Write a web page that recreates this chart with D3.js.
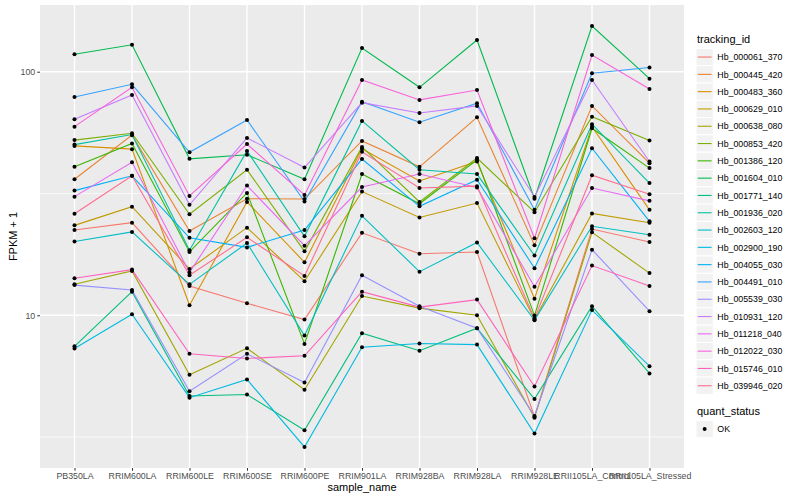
<!DOCTYPE html>
<html>
<head>
<meta charset="utf-8">
<script src="https://cdn.jsdelivr.net/npm/d3@7"></script>
<style>
  body { margin: 0; background: #fff; }
  text { font-family: "Liberation Sans", Arial, sans-serif; }
</style>
</head>
<body>
<script>
// samples on the x axis
var samples = ["PB350LA", "RRIM600LA", "RRIM600LE", "RRIM600SE", "RRIM600PE", "RRIM901LA",
  "RRIM928BA", "RRIM928LA", "RRIM928LE", "RRII105LA_Control", "RRII105LA_Stressed"];

var trackingIds = ["Hb_000061_370", "Hb_000445_420", "Hb_000483_360", "Hb_000629_010", "Hb_000638_080",
  "Hb_000853_420", "Hb_001386_120", "Hb_001604_010", "Hb_001771_140", "Hb_001936_020",
  "Hb_002603_120", "Hb_002900_190", "Hb_004055_030", "Hb_004491_010", "Hb_005539_030",
  "Hb_010931_120", "Hb_011218_040", "Hb_012022_030", "Hb_015746_010", "Hb_039946_020"];

// FPKM + 1, one array per tracking_id, in sample order
var hb_000061_370 = [22.4, 24.0, 13.2, 11.2, 9.60, 21.8, 17.9, 18.2, 3.83, 22.6, 20.0];
var hb_000445_420 = [36.2, 54.9, 22.2, 30.1, 30.0, 52.0, 40.7, 65.0, 19.4, 72.4, 42.1];
var hb_000483_360 = [49.6, 48.1, 11.0, 29.2, 16.5, 48.3, 35.6, 42.8, 11.7, 59.5, 27.1];
var hb_000629_010 = [23.4, 27.9, 15.5, 22.9, 13.8, 32.2, 25.2, 28.9, 9.60, 26.2, 24.0];
var hb_000638_080 = [13.4, 15.2, 5.70, 7.32, 4.95, 12.0, 10.7, 10.0, 3.80, 21.9, 14.9];
var hb_000853_420 = [52.4, 55.9, 26.0, 39.6, 18.3, 49.1, 29.2, 44.2, 26.5, 65.4, 52.2];
var hb_001386_120 = [40.7, 50.7, 18.2, 31.8, 7.63, 38.0, 28.7, 43.5, 9.97, 58.6, 40.2];
var hb_001604_010 = [118, 129, 43.9, 45.6, 36.2, 125, 86.3, 135, 30.1, 154, 93.6];
var hb_001771_140 = [7.46, 12.5, 4.66, 4.73, 3.37, 8.44, 7.15, 8.85, 4.53, 10.9, 5.77];
var hb_001936_020 = [50.2, 55.2, 18.5, 47.3, 21.1, 62.8, 39.6, 38.0, 17.6, 60.9, 34.9];
var hb_002603_120 = [20.1, 22.0, 13.4, 19.8, 8.26, 25.6, 15.1, 19.9, 9.54, 23.2, 21.4];
var hb_002900_190 = [7.30, 10.1, 4.59, 5.45, 2.88, 7.39, 7.66, 7.58, 3.27, 10.5, 6.18];
var hb_004055_030 = [32.5, 37.4, 20.8, 19.0, 22.4, 43.8, 28.0, 36.0, 15.6, 48.5, 24.3];
var hb_004491_010 = [78.8, 88.8, 46.7, 63.4, 29.3, 75.3, 62.0, 74.2, 27.1, 98.5, 104];
var hb_005539_030 = [13.3, 12.7, 4.88, 6.95, 5.30, 14.6, 10.9, 8.85, 3.86, 18.6, 10.4];
var hb_010931_120 = [63.8, 80.3, 28.4, 53.5, 40.4, 74.6, 67.7, 72.4, 30.6, 92.5, 42.8];
var hb_011218_040 = [30.7, 42.5, 15.0, 34.1, 19.3, 33.6, 38.0, 33.5, 13.1, 33.3, 29.5];
var hb_012022_030 = [59.5, 86.3, 30.9, 50.5, 31.2, 92.5, 76.6, 84.1, 20.7, 117, 84.9];
var hb_015746_010 = [14.2, 15.4, 6.95, 6.65, 6.82, 12.5, 10.8, 11.6, 5.10, 16.0, 13.2];
var hb_039946_020 = [26.1, 37.4, 14.6, 20.9, 14.5, 46.9, 33.3, 33.9, 9.69, 37.6, 31.4];

var seriesValues = [hb_000061_370, hb_000445_420, hb_000483_360, hb_000629_010, hb_000638_080,
  hb_000853_420, hb_001386_120, hb_001604_010, hb_001771_140, hb_001936_020,
  hb_002603_120, hb_002900_190, hb_004055_030, hb_004491_010, hb_005539_030,
  hb_010931_120, hb_011218_040, hb_012022_030, hb_015746_010, hb_039946_020];

var yTicks = [10, 100];
var quantStatus = ["OK"];

// ggplot hue palette for 20 levels
var colors = ["#F8766D", "#EA8331", "#D89000", "#C09B00", "#A3A500", "#7CAE00", "#39B600", "#00BB4E",
  "#00BF7D", "#00C1A3", "#00BFC4", "#00BAE0", "#00B0F6", "#35A2FF", "#9590FF", "#C77CFF",
  "#E76BF3", "#FA62DB", "#FF62BC", "#FF6C90"];

var series = trackingIds.map(function(id, i) {
  return { id: id, color: colors[i],
    values: samples.map(function(s, j) { return { sample: s, value: seriesValues[i][j] }; }) };
});

var W = 800, H = 500;
var margin = {top: 5, right: 116, bottom: 32, left: 40},
    width = W - margin.left - margin.right,
    height = H - margin.top - margin.bottom;

var svg = d3.select("body").append("svg")
    .attr("width", W)
    .attr("height", H);

var g = svg.append("g")
    .attr("transform", "translate(" + margin.left + "," + margin.top + ")");

var x = d3.scalePoint().domain(samples).range([0, width]).padding(0.6);

// log scale with 5% expansion in log space, like ggplot
var allVals = d3.merge(seriesValues);
var lo = Math.log10(d3.min(allVals)), hi = Math.log10(d3.max(allVals));
var pad = (hi - lo) * 0.05;
var y = d3.scaleLog().domain([Math.pow(10, lo - pad), Math.pow(10, hi + pad)]).range([height, 0]);

// panel
g.append("rect").attr("width", width).attr("height", height).attr("fill", "#EBEBEB");

// minor grid: geometric midpoints between decades
var minor = [Math.sqrt(10), Math.sqrt(1000)].filter(function(v) { return y(v) >= 0 && y(v) <= height; });
g.selectAll(".minor").data(minor).enter().append("line")
    .attr("x1", 0).attr("x2", width)
    .attr("y1", function(d) { return y(d); }).attr("y2", function(d) { return y(d); })
    .attr("stroke", "#fff").attr("stroke-width", 0.7);

g.selectAll(".hmajor").data(yTicks).enter().append("line")
    .attr("x1", 0).attr("x2", width)
    .attr("y1", function(d) { return y(d); }).attr("y2", function(d) { return y(d); })
    .attr("stroke", "#fff").attr("stroke-width", 1.4);

g.selectAll(".vmajor").data(samples).enter().append("line")
    .attr("y1", 0).attr("y2", height)
    .attr("x1", function(d) { return x(d); }).attr("x2", function(d) { return x(d); })
    .attr("stroke", "#fff").attr("stroke-width", 1.4);

// lines
var line = d3.line()
    .x(function(d) { return x(d.sample); })
    .y(function(d) { return y(d.value); });

g.selectAll(".series").data(series).enter().append("path")
    .attr("d", function(d) { return line(d.values); })
    .attr("fill", "none")
    .attr("stroke", function(d) { return d.color; })
    .attr("stroke-width", 1.1);

// points
series.forEach(function(s) {
  g.selectAll(null).data(s.values).enter().append("circle")
      .attr("cx", function(d) { return x(d.sample); })
      .attr("cy", function(d) { return y(d.value); })
      .attr("r", 2)
      .attr("fill", "#000");
});

// axes
var xAxis = g.append("g")
    .attr("transform", "translate(0," + height + ")")
    .call(d3.axisBottom(x).tickSize(2.75).tickPadding(2));
var yAxis = g.append("g")
    .call(d3.axisLeft(y).tickValues(yTicks).tickFormat(d3.format("d")).tickSize(2.75).tickPadding(2));

[xAxis, yAxis].forEach(function(a) {
  a.select(".domain").remove();
  a.selectAll(".tick line").attr("stroke", "#333");
  a.selectAll(".tick text").attr("fill", "#4D4D4D").style("font-size", "8.8px")
      .style("font-family", "'Liberation Sans', Arial, sans-serif");
});

svg.append("text")
    .attr("x", margin.left + width / 2).attr("y", 491)
    .attr("text-anchor", "middle").style("font-size", "11px").text("sample_name");

svg.append("text")
    .attr("transform", "translate(17," + (margin.top + height / 2) + ") rotate(-90)")
    .attr("text-anchor", "middle").style("font-size", "11px").text("FPKM + 1");

// legend: tracking_id
var keySize = 17.3, lx = 696;
var leg = svg.append("g");
leg.append("text").attr("x", lx + 1).attr("y", 43).style("font-size", "11px").text("tracking_id");

var items = leg.selectAll(".item").data(series).enter().append("g")
    .attr("transform", function(d, i) { return "translate(" + lx + "," + (48.4 + i * keySize) + ")"; });
items.append("rect").attr("width", keySize).attr("height", keySize)
    .attr("fill", "#F2F2F2").attr("stroke", "#fff").attr("stroke-width", 1);
items.append("line")
    .attr("x1", 1.7).attr("x2", keySize - 1.7)
    .attr("y1", keySize / 2).attr("y2", keySize / 2)
    .attr("stroke", function(d) { return d.color; }).attr("stroke-width", 1.1);
items.append("text")
    .attr("x", keySize + 4).attr("y", keySize / 2 + 3.2)
    .style("font-size", "8.8px").text(function(d) { return d.id; });

// legend: quant_status
leg.append("text").attr("x", lx + 1).attr("y", 415).style("font-size", "11px").text("quant_status");
var q = leg.selectAll(".q").data(quantStatus).enter().append("g")
    .attr("transform", function(d, i) { return "translate(" + lx + "," + (420.4 + i * keySize) + ")"; });
q.append("rect").attr("width", keySize).attr("height", keySize)
    .attr("fill", "#F2F2F2").attr("stroke", "#fff").attr("stroke-width", 1);
q.append("circle").attr("cx", keySize / 2).attr("cy", keySize / 2).attr("r", 2).attr("fill", "#000");
q.append("text").attr("x", keySize + 4).attr("y", keySize / 2 + 3.2)
    .style("font-size", "8.8px").text(function(d) { return d; });
</script>
</body>
</html>
